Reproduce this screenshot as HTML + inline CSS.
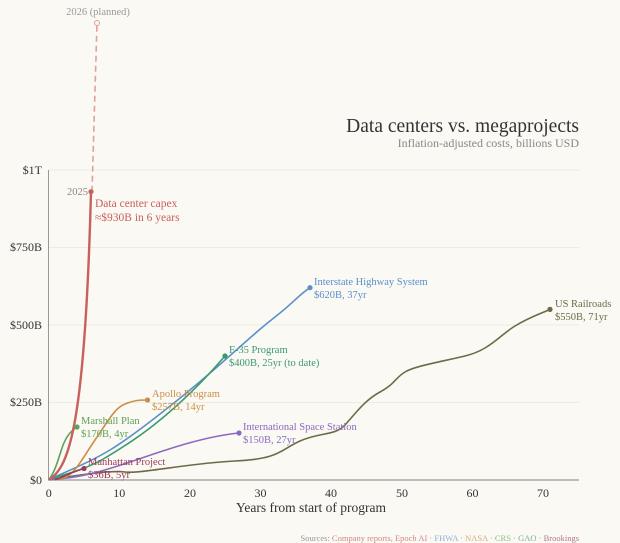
<!DOCTYPE html><html><head><style>body{margin:0;background:#faf9f4}svg{display:block;font-family:"Liberation Serif",serif}</style></head><body>
<svg width="620" height="543" viewBox="0 0 620 543">
<rect width="620" height="543" fill="#faf9f4"/>
<g stroke="#eeebe3" stroke-width="1">
<line x1="48" x2="579" y1="170" y2="170"/><line x1="48" x2="579" y1="247.5" y2="247.5"/><line x1="48" x2="579" y1="325" y2="325"/><line x1="48" x2="579" y1="402.5" y2="402.5"/></g>
<line x1="48.5" y1="170" x2="48.5" y2="480" stroke="#999" stroke-width="1"/>
<line x1="48" y1="480" x2="579" y2="480" stroke="#999" stroke-width="1.2"/>
<g font-size="12" fill="#333" text-anchor="end">
<text x="42" y="174">$1T</text><text x="42" y="251">$750B</text><text x="42" y="329">$500B</text><text x="42" y="406">$250B</text><text x="42" y="484">$0</text></g>
<g font-size="12" fill="#333" text-anchor="middle">
<text x="48.7" y="497">0</text><text x="119.3" y="497">10</text><text x="190" y="497">20</text><text x="260.5" y="497">30</text><text x="331" y="497">40</text><text x="402" y="497">50</text><text x="472.5" y="497">60</text><text x="543" y="497">70</text></g>
<text x="311" y="512" font-size="13.5" fill="#333" text-anchor="middle">Years from start of program</text>
<text x="579" y="132" font-size="19.5" fill="#333" text-anchor="end">Data centers vs. megaprojects</text>
<text x="579" y="147" font-size="12" fill="#888" text-anchor="end">Inflation-adjusted costs, billions USD</text>
<text x="579" y="541" font-size="8.5" text-anchor="end" fill="#999">Sources: <tspan fill="#d08a86">Company reports, Epoch AI</tspan> · <tspan fill="#8fb0d8">FHWA</tspan> · <tspan fill="#d4ae7c">NASA</tspan> · <tspan fill="#8cbf88">CRS</tspan> · <tspan fill="#77b498">GAO</tspan> · <tspan fill="#b07890">Brookings</tspan></text>
<g fill="none" stroke-width="1.6">
<path d="M48.7,479.7 C80,475 110,470 125,472 S190,463 235,461 S280,450 300,441 S335,436 345,425 S365,400 380,392 S395,378 405,372 S440,362 465,356 S500,335 515,326 S540,314 550,309.4" stroke="#6e6a48"/>
<path d="M48.7,479.7 C70,470 90,462 110,450 S180,400 225,360 S265,325 280,313 S300,294 310,287.7" stroke="#5b8fc9"/>
<path d="M48.7,479.7 C65,474 85,470 105,458 S170,420 225,356" stroke="#3a9a6e"/>
<path d="M48.7,479.7 C80,478 100,472 130,462 S200,437 239,433" stroke="#8a6ac0"/>
<path d="M60,479.7 C75,475 80,462 95,440 S115,408 125,404 S140,400 147.5,400" stroke="#c88f45"/>
<path d="M48.7,479.7 C55,472 58,460 62,448 S72,430 77,427" stroke="#5fa05a"/>
<path d="M55,479.7 C65,476 72,472 84,468.5" stroke="#9b3a5a"/>
<path d="M48.7,479.7 C70,468 85,420 91,191.7" stroke="#c8605c" stroke-width="2.4"/>
<path d="M92,191.7 L97,23" stroke="#e0a09c" stroke-dasharray="6,4" stroke-width="1.6"/>
</g>
<circle cx="97" cy="23" r="2.5" fill="#faf9f4" stroke="#e0a09c"/>
<g>
<circle cx="91" cy="191.7" r="2.6" fill="#c8605c"/>
<circle cx="310" cy="287.7" r="2.6" fill="#5b8fc9"/>
<circle cx="550" cy="309.4" r="2.6" fill="#6e6a48"/>
<circle cx="225" cy="356" r="2.6" fill="#3a9a6e"/>
<circle cx="147.5" cy="400" r="2.6" fill="#c88f45"/>
<circle cx="77" cy="427" r="2.6" fill="#5fa05a"/>
<circle cx="239" cy="433" r="2.6" fill="#8a6ac0"/>
<circle cx="84" cy="468.5" r="2.6" fill="#9b3a5a"/>
</g>
<g font-size="10.5">
<text x="98" y="15" fill="#999" text-anchor="middle">2026 (planned)</text>
<text x="88" y="195" fill="#888" text-anchor="end">2025</text>
<text x="95" y="207" fill="#c8605c" font-size="11.5">Data center capex</text>
<text x="95" y="221" fill="#c8605c" font-size="11.5">≈$930B in 6 years</text>
<text x="314" y="285" fill="#5b8fc9">Interstate Highway System</text>
<text x="314" y="298" fill="#5b8fc9">$620B, 37yr</text>
<text x="555" y="307" fill="#6e6a48">US Railroads</text>
<text x="555" y="320" fill="#6e6a48">$550B, 71yr</text>
<text x="229" y="353" fill="#3a9a6e">F-35 Program</text>
<text x="229" y="366" fill="#3a9a6e">$400B, 25yr (to date)</text>
<text x="152" y="397" fill="#c88f45">Apollo Program</text>
<text x="152" y="410" fill="#c88f45">$257B, 14yr</text>
<text x="81" y="424" fill="#5fa05a">Marshall Plan</text>
<text x="81" y="437" fill="#5fa05a">$170B, 4yr</text>
<text x="243" y="430" fill="#8a6ac0">International Space Station</text>
<text x="243" y="443" fill="#8a6ac0">$150B, 27yr</text>
<text x="88" y="465" fill="#9b3a5a">Manhattan Project</text>
<text x="88" y="478" fill="#9b3a5a">$36B, 5yr</text>
</g>
</svg></body></html>
